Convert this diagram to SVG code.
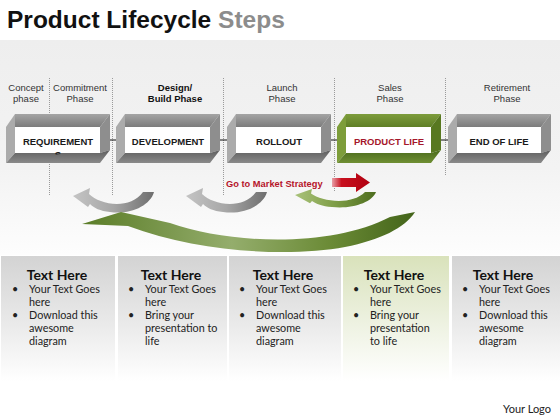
<svg xmlns="http://www.w3.org/2000/svg" width="560" height="420" viewBox="0 0 560 420">
<defs>
<linearGradient id="bg" x1="0" y1="0" x2="0" y2="1">
<stop offset="0" stop-color="#eeeeee"/><stop offset="0.6" stop-color="#f3f3f3"/><stop offset="1" stop-color="#fdfdfd"/>
</linearGradient>
<linearGradient id="card" x1="0" y1="0" x2="0" y2="1">
<stop offset="0" stop-color="#d3d3d3"/><stop offset="0.55" stop-color="#eaeaea"/><stop offset="1" stop-color="#ffffff"/>
</linearGradient>
<linearGradient id="cardG" x1="0" y1="0" x2="0" y2="1">
<stop offset="0" stop-color="#d9e2bb"/><stop offset="0.55" stop-color="#eef2e2"/><stop offset="1" stop-color="#ffffff"/>
</linearGradient>
<linearGradient id="gTop" x1="0" y1="0" x2="0" y2="1"><stop offset="0" stop-color="#a4a4a4"/><stop offset="1" stop-color="#7c7c7c"/></linearGradient>
<linearGradient id="gBot" x1="0" y1="0" x2="0" y2="1"><stop offset="0" stop-color="#5e5e5e"/><stop offset="1" stop-color="#8a8a8a"/></linearGradient>
<linearGradient id="grTop" x1="0" y1="0" x2="0" y2="1"><stop offset="0" stop-color="#7d9c3c"/><stop offset="1" stop-color="#5f7f26"/></linearGradient>
<linearGradient id="grBot" x1="0" y1="0" x2="0" y2="1"><stop offset="0" stop-color="#4a6a1c"/><stop offset="1" stop-color="#6f8f33"/></linearGradient>
<linearGradient id="swGray" x1="0" y1="0" x2="1" y2="0"><stop offset="0" stop-color="#c4c4c4"/><stop offset="0.5" stop-color="#a6a6a6"/><stop offset="1" stop-color="#6e6e6e"/></linearGradient>
<linearGradient id="swGreen" x1="0" y1="0" x2="1" y2="0"><stop offset="0" stop-color="#a9c27a"/><stop offset="0.5" stop-color="#7e9d46"/><stop offset="1" stop-color="#4d6d1e"/></linearGradient>
<linearGradient id="bigG" x1="0" y1="0" x2="1" y2="0"><stop offset="0" stop-color="#5a7c27"/><stop offset="0.45" stop-color="#94ad6c"/><stop offset="0.75" stop-color="#6a8a35"/><stop offset="1" stop-color="#43641a"/></linearGradient>
<linearGradient id="redA" x1="0" y1="0" x2="1" y2="0"><stop offset="0" stop-color="#e8a0a8"/><stop offset="0.25" stop-color="#c8101e"/><stop offset="1" stop-color="#b00010"/></linearGradient>
<clipPath id="reqClip"><rect x="15" y="127" width="85" height="27.5"/></clipPath>
<path id="swoosh" d="M73,196 L90,188 L89,194 C100,205 130,210 143,192 L154,192 C150,206 130,215 110,212 C100,211 94,208 90,204 L88,207 Z"/>
</defs>
<style>
.title{font-family:"Liberation Sans",Arial,sans-serif;font-weight:bold;font-size:24.5px}
.ph{font-family:"Liberation Sans",Arial,sans-serif;font-size:9.5px;fill:#333;text-anchor:middle}
.phb{font-weight:bold;fill:#111}
.div{stroke:#9a9a9a;stroke-width:1;stroke-dasharray:1,1}
.lbl{font-family:"Liberation Sans",Arial,sans-serif;font-weight:bold;font-size:9.5px;fill:#1a1a1a;text-anchor:middle}
.inner{fill:#ffffff}
.gl{fill:#ababab}.gr{fill:#8e8e8e}
.nl{fill:#7d9d3a}.nr{fill:#587820}
.con{stroke:#111;stroke-width:1}
.ct{font-family:Lato,"Open Sans",sans-serif;font-weight:bold;font-size:14px;fill:#111;text-anchor:middle}
.cb{font-family:Lato,"Open Sans",sans-serif;font-size:10.8px;fill:#222}
</style>
<rect x="0" y="0" width="560" height="420" fill="#ffffff"/>
<rect x="0" y="40" width="560" height="215" fill="url(#bg)"/>
<text class="title" x="7" y="28"><tspan fill="#111">Product Lifecycle </tspan><tspan fill="#8c8c8c">Steps</tspan></text>

<g id="dividers">
<line class="div" x1="49.5" y1="78" x2="49.5" y2="196"/>
<line class="div" x1="112.5" y1="78" x2="112.5" y2="196"/>
<line class="div" x1="223.5" y1="78" x2="223.5" y2="196"/>
<line class="div" x1="334.5" y1="78" x2="334.5" y2="192"/>
<line class="div" x1="445.5" y1="78" x2="445.5" y2="176"/>
</g>

<g id="phase-labels">
<text class="ph" x="26" y="91">Concept</text><text class="ph" x="26" y="102">phase</text>
<text class="ph" x="80" y="91">Commitment</text><text class="ph" x="80" y="102">Phase</text>
<text class="ph phb" x="175" y="91">Design/</text><text class="ph phb" x="175" y="102">Build Phase</text>
<text class="ph" x="282" y="91">Launch</text><text class="ph" x="282" y="102">Phase</text>
<text class="ph" x="390" y="91">Sales</text><text class="ph" x="390" y="102">Phase</text>
<text class="ph" x="507" y="91">Retirement</text><text class="ph" x="507" y="102">Phase</text>
</g>

<g id="connectors">
<line class="con" x1="110" y1="140" x2="116" y2="140"/>
<line class="con" x1="220" y1="140" x2="227" y2="140"/>
<line class="con" x1="331" y1="140" x2="337" y2="140"/>
<line class="con" x1="441" y1="140" x2="448" y2="140"/>
</g>

<g id="box-requirement">
<polygon class="gl" points="6,127 15,114 15,153 6,163"/>
<polygon fill="url(#gTop)" points="15,114 110,114 100,127 15,127"/>
<polygon class="gr" points="110,114 110,150 100,153 100,127"/>
<polygon fill="url(#gBot)" points="15,153 100,153 110,150 100,163 6,163"/>
<rect class="inner" x="15" y="127" width="85" height="26"/>
<text class="lbl" x="58" y="145">REQUIREMENT</text>
<text class="lbl" x="58" y="157.5" clip-path="url(#reqClip)">S</text>
</g>

<g id="box-development">
<polygon class="gl" points="116,127 125,114 125,153 116,163"/>
<polygon fill="url(#gTop)" points="125,114 220,114 210,127 125,127"/>
<polygon class="gr" points="220,114 220,150 210,153 210,127"/>
<polygon fill="url(#gBot)" points="125,153 210,153 220,150 210,163 116,163"/>
<rect class="inner" x="125" y="127" width="85" height="26"/>
<text class="lbl" x="168" y="145">DEVELOPMENT</text>
</g>

<g id="box-rollout">
<polygon class="gl" points="227,127 236,114 236,153 227,163"/>
<polygon fill="url(#gTop)" points="236,114 331,114 321,127 236,127"/>
<polygon class="gr" points="331,114 331,150 321,153 321,127"/>
<polygon fill="url(#gBot)" points="236,153 321,153 331,150 321,163 227,163"/>
<rect class="inner" x="236" y="127" width="85" height="26"/>
<text class="lbl" x="279" y="145">ROLLOUT</text>
</g>

<g id="box-product-life">
<polygon class="nl" points="337,127 346,114 346,153 337,163"/>
<polygon fill="url(#grTop)" points="346,114 441,114 431,127 346,127"/>
<polygon class="nr" points="441,114 441,150 431,153 431,127"/>
<polygon fill="url(#grBot)" points="346,153 431,153 441,150 431,163 337,163"/>
<rect class="inner" x="346" y="127" width="85" height="26"/>
<text class="lbl" x="389" y="145" style="fill:#a5172b">PRODUCT LIFE</text>
</g>

<g id="box-end-of-life">
<polygon class="gl" points="448,127 457,114 457,153 448,163"/>
<polygon fill="url(#gTop)" points="457,114 551,114 541,127 457,127"/>
<polygon class="gr" points="551,114 551,150 541,153 541,127"/>
<polygon fill="url(#gBot)" points="457,153 541,153 551,150 541,163 448,163"/>
<rect class="inner" x="457" y="127" width="84" height="26"/>
<text class="lbl" x="499" y="145">END OF LIFE</text>
</g>

<g id="go-to-market">
<text x="226" y="187" font-family="Liberation Sans, Arial, sans-serif" font-weight="bold" font-size="9.3" fill="#b5142a">Go to Market Strategy</text>
<polygon fill="url(#redA)" points="332,178 356,178 356,173 370,182.5 356,192 356,187 332,187"/>
</g>

<g id="arrows">
<use href="#swoosh" fill="url(#swGray)"/>
<use href="#swoosh" fill="url(#swGray)" transform="translate(113,0)"/>
<use href="#swoosh" fill="url(#swGreen)" transform="translate(222,48) scale(1,0.75)"/>
<path d="M82,224 L121,212 L170,223 C230,244 330,248 390,217 L415,212 C405,228 380,240 345,247 C290,257 200,253 128,226 Z" fill="url(#bigG)"/>
</g>

<g id="card-1">
<rect x="1" y="256" width="114" height="125" fill="url(#card)"/>
<text class="ct" x="57" y="280">Text Here</text>
<text class="cb"><tspan x="12" y="293">•</tspan><tspan x="29" y="293">Your Text Goes</tspan><tspan x="29" y="306">here</tspan><tspan x="12" y="319">•</tspan><tspan x="29" y="319">Download this</tspan><tspan x="29" y="332">awesome</tspan><tspan x="29" y="345">diagram</tspan></text>
</g>
<g id="card-2">
<rect x="118" y="256" width="109" height="125" fill="url(#card)"/>
<text class="ct" x="171" y="280">Text Here</text>
<text class="cb"><tspan x="128" y="293">•</tspan><tspan x="145" y="293">Your Text Goes</tspan><tspan x="145" y="306">here</tspan><tspan x="128" y="319">•</tspan><tspan x="145" y="319">Bring your</tspan><tspan x="145" y="332">presentation to</tspan><tspan x="145" y="345">life</tspan></text>
</g>
<g id="card-3">
<rect x="229" y="256" width="112" height="125" fill="url(#card)"/>
<text class="ct" x="283" y="280">Text Here</text>
<text class="cb"><tspan x="239" y="293">•</tspan><tspan x="256" y="293">Your Text Goes</tspan><tspan x="256" y="306">here</tspan><tspan x="239" y="319">•</tspan><tspan x="256" y="319">Download this</tspan><tspan x="256" y="332">awesome</tspan><tspan x="256" y="345">diagram</tspan></text>
</g>
<g id="card-4">
<rect x="343" y="256" width="106" height="125" fill="url(#cardG)"/>
<text class="ct" x="394" y="280">Text Here</text>
<text class="cb"><tspan x="353" y="293">•</tspan><tspan x="370" y="293">Your Text Goes</tspan><tspan x="370" y="306">here</tspan><tspan x="353" y="319">•</tspan><tspan x="370" y="319">Bring your</tspan><tspan x="370" y="332">presentation</tspan><tspan x="370" y="345">to life</tspan></text>
</g>
<g id="card-5">
<rect x="452" y="256" width="108" height="125" fill="url(#card)"/>
<text class="ct" x="503" y="280">Text Here</text>
<text class="cb"><tspan x="462" y="293">•</tspan><tspan x="479" y="293">Your Text Goes</tspan><tspan x="479" y="306">here</tspan><tspan x="462" y="319">•</tspan><tspan x="479" y="319">Download this</tspan><tspan x="479" y="332">awesome</tspan><tspan x="479" y="345">diagram</tspan></text>
</g>

<text x="551" y="413" text-anchor="end" font-family="Lato, 'Open Sans', sans-serif" font-size="11" fill="#222">Your Logo</text>
</svg>
